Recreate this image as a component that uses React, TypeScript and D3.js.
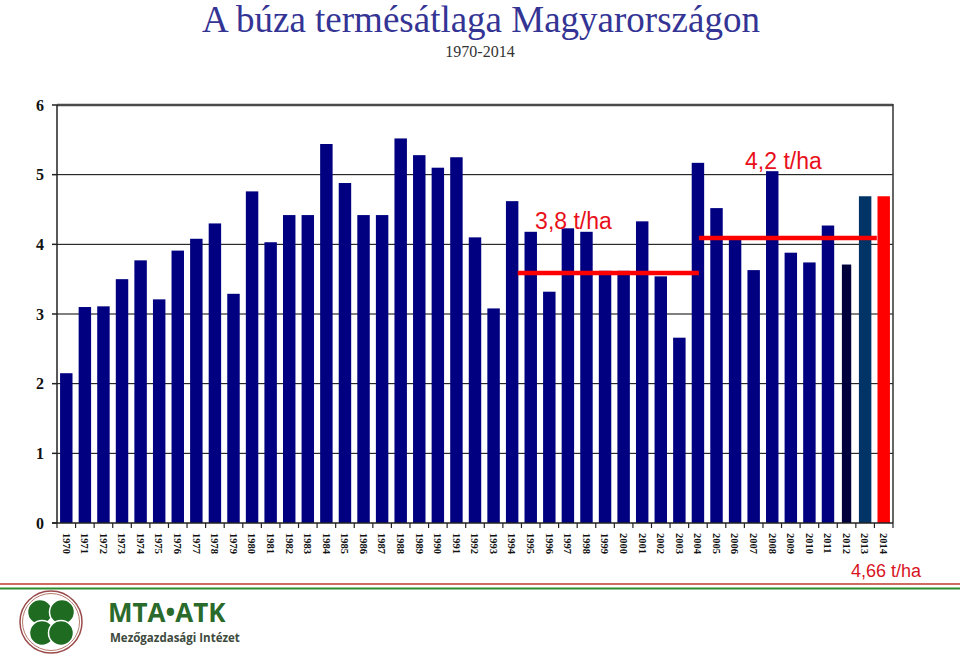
import React from "react";
import * as d3 from "d3";

const years: number[] = [
  1970, 1971, 1972, 1973, 1974, 1975, 1976, 1977, 1978, 1979,
  1980, 1981, 1982, 1983, 1984, 1985, 1986, 1987, 1988, 1989,
  1990, 1991, 1992, 1993, 1994, 1995, 1996, 1997, 1998, 1999,
  2000, 2001, 2002, 2003, 2004, 2005, 2006, 2007, 2008, 2009,
  2010, 2011, 2012, 2013, 2014,
];
const yields: number[] = [
  2.15, 3.1, 3.11, 3.5, 3.77, 3.21, 3.91, 4.08, 4.3, 3.29,
  4.76, 4.03, 4.42, 4.42, 5.44, 4.88, 4.42, 4.42, 5.52, 5.28,
  5.1, 5.25, 4.1, 3.08, 4.62, 4.18, 3.32, 4.23, 4.18, 3.62,
  3.62, 4.33, 3.54, 2.66, 5.17, 4.52, 4.1, 3.63, 5.05, 3.88,
  3.74, 4.27, 3.71, 4.69, 4.69,
];
const yTicks: number[] = [0, 1, 2, 3, 4, 5, 6];

// average lines (in year units along the axis) and their labels
const avgFrom: number[] = [1994.3, 2004.05];
const avgTo: number[] = [2004.05, 2013.63];
const avgValue: number[] = [3.59, 4.09];
const avgLabels: string[] = ["3,8 t/ha", "4,2 t/ha"];
const avgLabelYear: number[] = [1997.3, 2008.6];
const avgLabelValue: number[] = [4.22, 5.08];

const title = "A búza termésátlaga Magyarországon";
const subtitle = "1970-2014";
const lastLabel = "4,66 t/ha";

const W = 960;
const H = 659;
const left = 57;
const right = 893;
const top = 105;
const bottom = 523;

function barColor(year: number): string {
  if (year === 2014) return "#ff0000";
  if (year === 2013) return "#003366";
  if (year === 2012) return "#00003c";
  return "#000080";
}

export default function App() {
  const x = d3
    .scaleBand<string>()
    .domain(years.map(String))
    .range([left, right])
    .paddingInner(0.33)
    .paddingOuter(0.165);
  const step = x.step();
  const xl = d3
    .scaleLinear()
    .domain([years[0] - 0.5, years[years.length - 1] + 0.5])
    .range([left, right]);
  const y = d3.scaleLinear().domain([0, 6]).range([bottom, top]);

  const tickXs = d3.range(years.length + 1).map((i) => left + i * step);

  return (
    <svg
      width={W}
      height={H}
      viewBox={`0 0 ${W} ${H}`}
      style={{ position: "absolute", left: 0, top: 0, display: "block", background: "#fff" }}
    >
      <rect x={0} y={0} width={W} height={H} fill="#fff" />
      {/* title */}
      <text
        x={481}
        y={32}
        textAnchor="middle"
        fontFamily="'Liberation Serif', 'Times New Roman', serif"
        fontSize={37}
        fill="#343494"
      >
        {title}
      </text>
      <text
        x={480}
        y={57}
        textAnchor="middle"
        fontFamily="'Liberation Serif', 'Times New Roman', serif"
        fontSize={16}
        fill="#333"
      >
        {subtitle}
      </text>

      {/* gridlines */}
      {yTicks.slice(1, -1).map((t) => (
        <line key={t} x1={left} x2={right} y1={y(t)} y2={y(t)} stroke="#000" strokeWidth={1} />
      ))}
      <line x1={left} x2={right} y1={y(6)} y2={y(6)} stroke="#4a4a4a" strokeWidth={2.5} />
      <line x1={right} x2={right} y1={y(6) - 1} y2={bottom} stroke="#333" strokeWidth={1.5} />

      {/* bars */}
      {years.map((yr, i) => {
        const w = yr === 2012 ? x.bandwidth() * 0.75 : x.bandwidth();
        const cx = (x(String(yr)) as number) + x.bandwidth() / 2;
        return (
          <rect
            key={yr}
            x={cx - w / 2}
            y={y(yields[i])}
            width={w}
            height={bottom - y(yields[i])}
            fill={barColor(yr)}
          />
        );
      })}

      {/* axes */}
      <line x1={left} x2={left} y1={top} y2={bottom} stroke="#222" strokeWidth={1.5} />
      <line x1={left - 5} x2={right} y1={bottom} y2={bottom} stroke="#222" strokeWidth={1.5} />
      {yTicks.map((t) => (
        <line key={t} x1={left - 5} x2={left} y1={y(t)} y2={y(t)} stroke="#222" strokeWidth={1.5} />
      ))}
      {tickXs.map((tx, i) => (
        <line key={i} x1={tx} x2={tx} y1={bottom} y2={bottom + 5} stroke="#222" strokeWidth={1.2} />
      ))}
      {yTicks.map((t) => (
        <text
          key={t}
          x={44}
          y={y(t)}
          dy="0.35em"
          textAnchor="end"
          fontFamily="'Liberation Serif', 'Times New Roman', serif"
          fontWeight="bold"
          fontSize={16}
          fill="#111"
        >
          {t}
        </text>
      ))}
      {years.map((yr) => {
        const cx = (x(String(yr)) as number) + x.bandwidth() / 2;
        return (
          <text
            key={yr}
            transform={`translate(${cx},${bottom + 10}) rotate(90)`}
            dy="0.35em"
            textAnchor="start"
            fontFamily="'Liberation Serif', 'Times New Roman', serif"
            fontWeight="bold"
            fontSize={10.5}
            fill="#111"
          >
            {yr}
          </text>
        );
      })}

      {/* average lines */}
      {avgValue.map((v, i) => (
        <g key={i}>
          <line
            x1={xl(avgFrom[i])}
            x2={xl(avgTo[i])}
            y1={y(v)}
            y2={y(v)}
            stroke="#ff0000"
            strokeWidth={4.5}
          />
          <text
            x={xl(avgLabelYear[i])}
            y={y(avgLabelValue[i])}
            textAnchor="middle"
            fontFamily="'Liberation Sans', Arial, sans-serif"
            fontSize={23}
            fill="#e8101a"
          >
            {avgLabels[i]}
          </text>
        </g>
      ))}

      <text
        x={886}
        y={577}
        textAnchor="middle"
        fontFamily="'Liberation Sans', Arial, sans-serif"
        fontSize={18}
        fill="#d8141e"
      >
        {lastLabel}
      </text>

      {/* tricolor stripe */}
      <line x1={0} x2={W} y1={584} y2={584} stroke="#c0392b" strokeWidth={1.6} />
      <line x1={0} x2={W} y1={588.5} y2={588.5} stroke="#2e8b2e" strokeWidth={2.2} />

      {/* logo */}
      <g>
        <circle cx={51} cy={622} r={31} fill="#fff" stroke="#9a4a4a" strokeWidth={1.5} />
        <circle cx={51} cy={622} r={28.5} fill="#fff" stroke="#b57a6a" strokeWidth={1} />
        <circle cx={40} cy={612} r={12.5} fill="#1f6b21" stroke="#fff" strokeWidth={1.5} />
        <circle cx={62} cy={612} r={12.5} fill="#1f6b21" stroke="#fff" strokeWidth={1.5} />
        <circle cx={42} cy={633} r={12.5} fill="#1f6b21" stroke="#fff" strokeWidth={1.5} />
        <circle cx={61} cy={633} r={12.5} fill="#1f6b21" stroke="#fff" strokeWidth={1.5} />
        <text
          x={108}
          y={622}
          fontFamily="'Open Sans', 'DejaVu Sans', sans-serif"
          fontWeight="bold"
          fontSize={26}
          fill="#2a6a2a"
        >
          MTA•ATK
        </text>
        <text
          x={110}
          y={642}
          fontFamily="'Open Sans', 'DejaVu Sans', sans-serif"
          fontWeight="bold"
          fontSize={11.5}
          fill="#3d4a3d"
        >
          Mezőgazdasági Intézet
        </text>
      </g>
    </svg>
  );
}
